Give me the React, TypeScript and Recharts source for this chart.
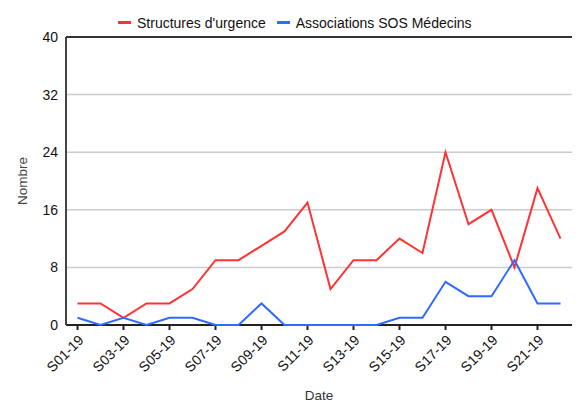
import React from 'react';
import {
  LineChart,
  Line,
  XAxis,
  YAxis,
  CartesianGrid,
  ReferenceLine,
} from 'recharts';

const weeks = [
  'S01-19', 'S02-19', 'S03-19', 'S04-19', 'S05-19', 'S06-19', 'S07-19', 'S08-19',
  'S09-19', 'S10-19', 'S11-19', 'S12-19', 'S13-19', 'S14-19', 'S15-19', 'S16-19',
  'S17-19', 'S18-19', 'S19-19', 'S20-19', 'S21-19', 'S22-19',
];
const urgences = [3, 3, 1, 3, 3, 5, 9, 9, 11, 13, 17, 5, 9, 9, 12, 10, 24, 14, 16, 8, 19, 12];
const sosMedecins = [1, 0, 1, 0, 1, 1, 0, 0, 3, 0, 0, 0, 0, 0, 1, 1, 6, 4, 4, 9, 3, 3];
const yTicks = [0, 8, 16, 24, 32, 40];

const RED = '#ff3333';
const BLUE = '#2f6bff';
const FONT = '"Liberation Sans", Arial, sans-serif';

const data = weeks.map((semaine, i) => ({
  semaine,
  urgences: urgences[i],
  sos: sosMedecins[i],
}));

function LegendItem({ color, label }: { color: string; label: string }) {
  return (
    <span style={{ display: 'inline-flex', alignItems: 'center', marginRight: 11 }}>
      <span style={{ width: 13, height: 3, background: color, marginRight: 6 }} />
      <span>{label}</span>
    </span>
  );
}

export default function App() {
  return (
    <div style={{ position: 'absolute', left: 0, top: 0, width: 579, height: 401, fontFamily: FONT }}>
      <div
        style={{
          position: 'absolute',
          left: 118,
          top: 11,
          fontSize: 14,
          color: '#111',
          whiteSpace: 'nowrap',
          lineHeight: '16px',
        }}
      >
        <LegendItem color={RED} label="Structures d'urgence" />
        <LegendItem color={BLUE} label="Associations SOS Médecins" />
      </div>
      <LineChart
        width={579}
        height={401}
        data={data}
        margin={{ top: 37, right: 7, left: 0, bottom: 0 }}
        style={{ fontFamily: FONT }}
      >
        <CartesianGrid vertical={false} stroke="#cccccc" strokeWidth={1.5} />
        <ReferenceLine y={40} stroke="#333" strokeWidth={2} />
        <XAxis
          dataKey="semaine"
          interval={1}
          height={76}
          padding={{ left: 11.5, right: 11.5 }}
          angle={-45}
          textAnchor="end"
          tick={{ fontSize: 14, fill: '#111', dy: 2 }}
          stroke="#222"
          strokeWidth={2}
          tickSize={5}
          label={{ value: 'Date', position: 'insideBottom', offset: 1, fontSize: 13.5, fill: '#333' }}
        />
        <YAxis
          domain={[0, 40]}
          ticks={yTicks}
          width={66}
          tickLine={false}
          stroke="#444"
          strokeWidth={2}
          tick={{ fontSize: 14, fill: '#111' }}
          label={{
            value: 'Nombre',
            angle: -90,
            position: 'insideLeft',
            offset: 22,
            fontSize: 13.5,
            fill: '#444',
            style: { textAnchor: 'middle' },
          }}
        />
        <Line
          type="linear"
          dataKey="urgences"
          stroke={RED}
          strokeWidth={2}
          dot={false}
          zIndex={600}
          isAnimationActive={false}
        />
        <Line
          type="linear"
          dataKey="sos"
          stroke={BLUE}
          strokeWidth={2}
          dot={false}
          zIndex={600}
          isAnimationActive={false}
        />
      </LineChart>
    </div>
  );
}
